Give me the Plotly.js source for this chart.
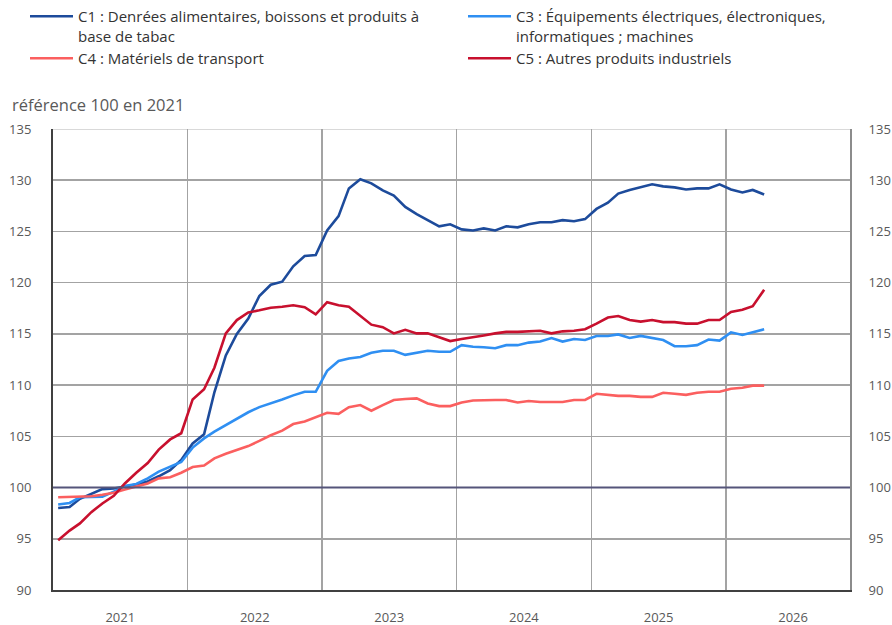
<!DOCTYPE html>
<html>
<head>
<meta charset="utf-8">
<script src="https://cdn.plot.ly/plotly-3.0.1.min.js"></script>
<style>
  html, body { margin: 0; padding: 0; background: #fff; }
  #chart { width: 892px; height: 625px; }
</style>
</head>
<body>
<div id="chart"></div>
<script>
// Monthly observations (mid-month), Jan 2021 - Apr 2026
const months = [
  '2021-01','2021-02','2021-03','2021-04','2021-05','2021-06','2021-07','2021-08','2021-09','2021-10','2021-11','2021-12',
  '2022-01','2022-02','2022-03','2022-04','2022-05','2022-06','2022-07','2022-08','2022-09','2022-10','2022-11','2022-12',
  '2023-01','2023-02','2023-03','2023-04','2023-05','2023-06','2023-07','2023-08','2023-09','2023-10','2023-11','2023-12',
  '2024-01','2024-02','2024-03','2024-04','2024-05','2024-06','2024-07','2024-08','2024-09','2024-10','2024-11','2024-12',
  '2025-01','2025-02','2025-03','2025-04','2025-05','2025-06','2025-07','2025-08','2025-09','2025-10','2025-11','2025-12',
  '2026-01','2026-02','2026-03','2026-04'
];

const c1 = [
  98.0, 98.1, 98.9, 99.4, 99.85, 99.9, 100.1, 100.3, 100.6, 101.1, 101.7, 102.7,
  104.3, 105.2, 109.3, 112.9, 115.0, 116.5, 118.7, 119.8, 120.1, 121.6, 122.6, 122.7,
  125.1, 126.5, 129.2, 130.1, 129.7, 129.0, 128.5, 127.4, 126.7, 126.1, 125.5, 125.7,
  125.2, 125.1, 125.3, 125.1, 125.5, 125.4, 125.7, 125.9, 125.9, 126.1, 126.0, 126.2,
  127.2, 127.8, 128.7, 129.05, 129.35, 129.6, 129.4, 129.3, 129.1, 129.2, 129.2, 129.6,
  129.1, 128.8, 129.05, 128.6
];
const c3 = [
  98.35, 98.5, 99.05, 99.05, 99.1, 99.6, 100.15, 100.35, 100.9, 101.55, 102.0, 102.5,
  103.9, 104.8, 105.45, 106.1, 106.75, 107.35, 107.85, 108.2, 108.6, 109.0, 109.35, 109.35,
  111.4, 112.35, 112.6, 112.75, 113.15, 113.35, 113.35, 112.95, 113.15, 113.35, 113.25, 113.25,
  113.9, 113.75, 113.7, 113.6, 113.9, 113.9, 114.15, 114.25, 114.6, 114.25, 114.5, 114.4,
  114.8, 114.8, 114.95, 114.6, 114.8, 114.6, 114.4, 113.8, 113.8, 113.9, 114.45, 114.35,
  115.15, 114.9, 115.15, 115.45
];
const c4 = [
  99.05, 99.1, 99.15, 99.15, 99.3, 99.5, 99.8, 100.1, 100.4, 100.9, 101.0, 101.45,
  102.0, 102.15, 102.85, 103.3, 103.65, 104.05, 104.55, 105.1, 105.55, 106.2, 106.45, 106.9,
  107.3, 107.2, 107.85, 108.05, 107.5, 108.05, 108.55, 108.65, 108.7, 108.2, 107.95, 107.95,
  108.3, 108.5, 108.55, 108.55, 108.55, 108.3, 108.45, 108.35, 108.35, 108.35, 108.55, 108.55,
  109.15, 109.05, 108.95, 108.95, 108.85, 108.85, 109.25, 109.15, 109.05, 109.25, 109.35, 109.35,
  109.65, 109.75, 109.95, 109.95
];
const c5 = [
  94.85, 95.8, 96.5, 97.6, 98.45, 99.2, 100.4, 101.45, 102.4, 103.7, 104.7, 105.3,
  108.6, 109.6, 111.7, 115.05, 116.35, 117.1, 117.3, 117.55, 117.65, 117.8, 117.6, 116.9,
  118.1, 117.8, 117.65, 116.8, 115.9, 115.65, 115.05, 115.4, 115.05, 115.05, 114.7, 114.3,
  114.5, 114.65, 114.85, 115.05, 115.2, 115.2, 115.25, 115.3, 115.05, 115.25, 115.3, 115.45,
  116.0, 116.6, 116.75, 116.35, 116.2, 116.35, 116.15, 116.15, 116.0, 116.0, 116.35, 116.35,
  117.15, 117.35, 117.7, 119.3
];

const names = [
  'C1 : Denrées alimentaires, boissons et produits à<br>base de tabac',
  'C3 : Équipements électriques, électroniques,<br>informatiques ; machines',
  'C4 : Matériels de transport',
  'C5 : Autres produits industriels'
];
const colors = ['#1d4b9b', '#2f8ff2', '#fb5f5f', '#c8102e'];
const yTicks = [90, 95, 100, 105, 110, 115, 120, 125, 130, 135];

const x = months.map(m => m + '-15');
const series = [c1, c3, c4, c5];
const legendOf = ['legend', 'legend2', 'legend', 'legend2'];
// last series is drawn against the (identical) right-hand axis so that axis gets drawn
const yaxisOf = ['y', 'y', 'y', 'y2'];

const traces = series.map((s, k) => ({
  type: 'scatter',
  mode: 'lines',
  x: x,
  y: s,
  name: names[k],
  legend: legendOf[k],
  yaxis: yaxisOf[k],
  line: { color: colors[k], width: 2.6 },
  hoverinfo: 'x+y'
}));

const tickFont = { family: 'Open Sans, sans-serif', size: 13, color: '#595959' };
const gridColor = '#a3a3a3';
const legendFont = { family: 'Open Sans, sans-serif', size: 15, color: '#333333' };

const layout = {
  width: 892,
  height: 625,
  margin: { l: 53, r: 42, t: 129, b: 35, autoexpand: false },
  paper_bgcolor: '#ffffff',
  plot_bgcolor: '#ffffff',
  font: { family: 'Open Sans, sans-serif', size: 14, color: '#333333' },
  showlegend: true,
  legend: {
    xref: 'container', yref: 'container',
    x: 25 / 892, y: 1, xanchor: 'left', yanchor: 'top',
    orientation: 'v', valign: 'top', itemwidth: 43,
    font: legendFont, bgcolor: 'rgba(0,0,0,0)', tracegroupgap: 0
  },
  legend2: {
    xref: 'container', yref: 'container',
    x: 463 / 892, y: 1, xanchor: 'left', yanchor: 'top',
    orientation: 'v', valign: 'top', itemwidth: 43,
    font: legendFont, bgcolor: 'rgba(0,0,0,0)', tracegroupgap: 0
  },
  xaxis: {
    type: 'date',
    range: ['2021-01-01', '2026-12-04'],
    tick0: '2021-01-01',
    dtick: 'M12',
    tickformat: '%Y',
    ticklabelmode: 'period',
    ticks: 'outside', ticklen: 14, tickcolor: 'rgba(0,0,0,0)',
    tickfont: tickFont,
    showgrid: true, gridcolor: gridColor, gridwidth: 1.5,
    showline: true, linecolor: '#404040', linewidth: 2,
    zeroline: false, fixedrange: true
  },
  yaxis: {
    range: [90, 135],
    tickvals: yTicks,
    ticks: 'outside', ticklen: 17, tickcolor: 'rgba(0,0,0,0)',
    tickfont: tickFont,
    showgrid: true, gridcolor: gridColor, gridwidth: 1.5,
    showline: true, linecolor: '#404040', linewidth: 2,
    zeroline: false, fixedrange: true
  },
  yaxis2: {
    overlaying: 'y', side: 'right',
    range: [90, 135],
    tickvals: yTicks,
    ticks: 'outside', ticklen: 14, tickcolor: 'rgba(0,0,0,0)',
    tickfont: tickFont,
    showgrid: false,
    showline: true, linecolor: '#8c8c8c', linewidth: 2,
    zeroline: false, fixedrange: true
  },
  shapes: [
    { type: 'line', xref: 'paper', yref: 'y', x0: 0, x1: 1, y0: 100, y1: 100,
      line: { color: '#55557a', width: 2 }, layer: 'above' },
    { type: 'line', xref: 'paper', yref: 'y', x0: 0, x1: 1, y0: 135, y1: 135,
      line: { color: '#d9d9d9', width: 2 }, layer: 'between' }
  ],
  annotations: [
    { text: 'référence 100 en 2021', xref: 'paper', yref: 'paper',
      x: -43 / 798, y: (590 - 104) / 461, xanchor: 'left', yanchor: 'middle',
      showarrow: false, font: { family: 'Open Sans, sans-serif', size: 16.5, color: '#595959' } }
  ]
};

Plotly.newPlot('chart', traces, layout, { displayModeBar: false, staticPlot: true });
</script>
</body>
</html>
